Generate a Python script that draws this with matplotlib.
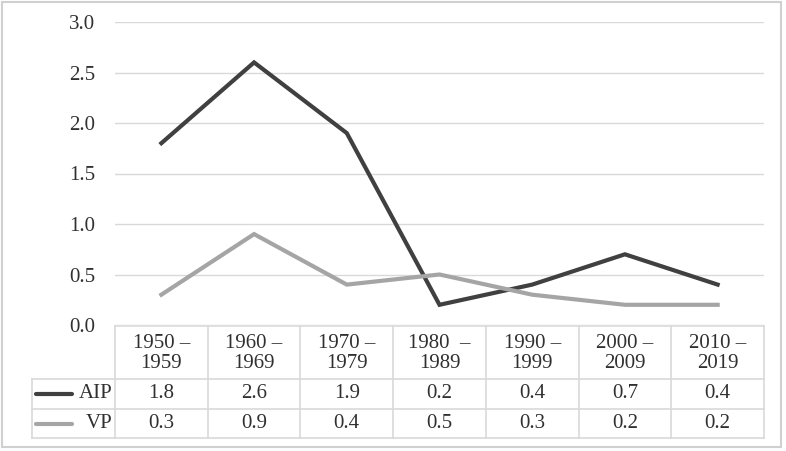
import matplotlib
matplotlib.use("Agg")
import matplotlib.pyplot as plt
from matplotlib.patches import Rectangle

# data
periods = ["1950 –\n1959", "1960 –\n1969", "1970 –\n1979", "1980  –\n1989",
           "1990 –\n1999", "2000 –\n2009", "2010 –\n2019"]
aip = [1.8, 2.6, 1.9, 0.2, 0.4, 0.7, 0.4]
vp = [0.3, 0.9, 0.4, 0.5, 0.3, 0.2, 0.2]
yticks = [0.0, 0.5, 1.0, 1.5, 2.0, 2.5, 3.0]

W, H = 786, 451
plt.rcParams["font.family"] = ["Liberation Serif", "DejaVu Serif"]
text_c = "#303030"
grid_c = "#d9d9d9"
series = [("AIP", aip, "#404040"), ("VP", vp, "#a5a5a5")]

fig = plt.figure(figsize=(W / 100, H / 100), dpi=100)

# px helpers
def px_box(x0, y0, x1, y1):
    return [x0 / W, (H - y1) / H, (x1 - x0) / W, (y1 - y0) / H]

fs = 15
ax = fig.add_axes(px_box(115, 22, 764, 325))
n = len(periods)
xs = list(range(n))
for name, vals, col in series:
    ax.plot(xs, vals, color=col, lw=3, solid_joinstyle="miter")
ax.set_xlim(-0.5, n - 0.5)
ax.set_ylim(0, 3.0)
ax.set_yticks(yticks)
ax.set_yticklabels([f"{v:.1f}" for v in yticks], fontsize=fs, color=text_c)
ax.tick_params(axis="y", length=0, pad=14.4)
ax.set_xticks([])
ax.grid(axis="y", color=grid_c, lw=1)
ax.set_axisbelow(True)
for s in ax.spines.values():
    s.set_visible(False)

# data table below the plot
unit = 649 / n
left = -0.5 - (115 - 32) / unit
tx = fig.add_axes(px_box(32, 326, 764, 438))
tx.set_xlim(left, n - 0.5)
tx.set_ylim(438, 326)
tx.axis("off")
lc = dict(color=grid_c, lw=1.2, clip_on=False)
row_y = [326, 379, 409, 438]
tx.plot([-0.5, n - 0.5], [row_y[0]] * 2, **lc)
for y in row_y[1:]:
    tx.plot([left, n - 0.5], [y, y], **lc)
tx.plot([left, left], [row_y[1], row_y[3]], **lc)
for i in range(n + 1):
    tx.plot([i - 0.5, i - 0.5], [row_y[0], row_y[3]], **lc)

for i, p in enumerate(periods):
    tx.text(i, (row_y[0] + row_y[1]) / 2 + 1, p, ha="center", va="center",
            fontsize=fs, color=text_c, linespacing=1.0)
for r, (name, vals, col) in enumerate(series):
    yc = (row_y[r + 1] + row_y[r + 2]) / 2
    for i, v in enumerate(vals):
        tx.text(i, yc, f"{v:.1f}", ha="center", va="center", fontsize=fs, color=text_c)
    x0 = left + 4 / unit
    tx.plot([x0, x0 + 36 / unit], [yc, yc], color=col, lw=3, solid_capstyle="round", clip_on=False)
    tx.text(-0.5 - 2 / unit, yc, name, ha="right", va="center", fontsize=fs, color=text_c)

# outer chart border
fig.patches.append(Rectangle((2 / W, (H - 447) / H), 779 / W, 445 / H, transform=fig.transFigure,
                             fill=False, edgecolor="#d0d0d0", lw=1.5))

fig.savefig("out.png", dpi=100, facecolor="white")
